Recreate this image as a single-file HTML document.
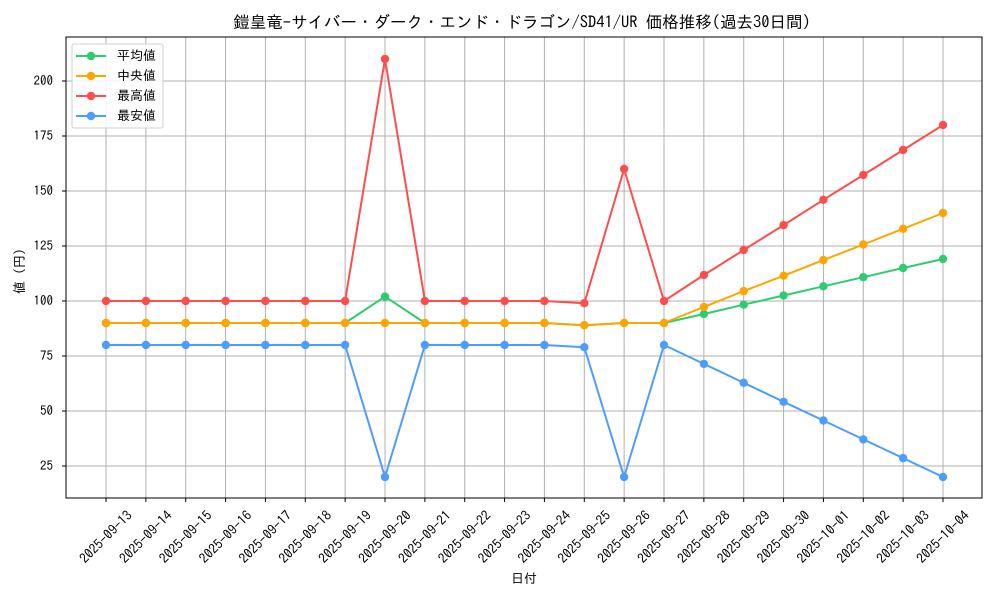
<!DOCTYPE html>
<html><head><meta charset="utf-8"><style>
body{margin:0;background:#fff}
svg{display:block;font-family:"IPAGothic","Liberation Sans","Noto Sans CJK JP",sans-serif}
</style></head><body>
<svg width="1000" height="600" viewBox="0 0 1000 600" xmlns="http://www.w3.org/2000/svg">
<defs>
<marker id="mg" markerWidth="10" markerHeight="10" refX="5" refY="5" markerUnits="userSpaceOnUse"><circle cx="5" cy="5" r="4.2" fill="#2ecc71"/></marker>
<marker id="mo" markerWidth="10" markerHeight="10" refX="5" refY="5" markerUnits="userSpaceOnUse"><circle cx="5" cy="5" r="4.2" fill="#ffa500"/></marker>
<marker id="mr" markerWidth="10" markerHeight="10" refX="5" refY="5" markerUnits="userSpaceOnUse"><circle cx="5" cy="5" r="4.2" fill="#ff4d4d"/></marker>
<marker id="mb" markerWidth="10" markerHeight="10" refX="5" refY="5" markerUnits="userSpaceOnUse"><circle cx="5" cy="5" r="4.2" fill="#4d9dff"/></marker>
</defs>
<text x="522" y="28" font-size="16.5" text-anchor="middle">鎧皇竜-サイバー・ダーク・エンド・ドラゴン/SD41/UR 価格推移(過去30日間)</text>
<g id="grid" stroke="#b0b0b0" stroke-width="1"></g>
<g id="ticks" stroke="#000" stroke-width="1"></g>
<rect x="66" y="37" width="916" height="461" fill="none" stroke="#000" stroke-width="1"/>
<g font-size="13" text-anchor="end">
<text x="53" y="470">25</text><text x="53" y="415">50</text><text x="53" y="360">75</text><text x="53" y="305">100</text><text x="53" y="250">125</text><text x="53" y="195">150</text><text x="53" y="140">175</text><text x="53" y="85">200</text>
</g>
<g font-size="13.5" text-anchor="middle">
<text transform="translate(106,537) rotate(-45)" y="4.5">2025-09-13</text>
<text transform="translate(145.9,537) rotate(-45)" y="4.5">2025-09-14</text>
<text transform="translate(185.7,537) rotate(-45)" y="4.5">2025-09-15</text>
<text transform="translate(225.6,537) rotate(-45)" y="4.5">2025-09-16</text>
<text transform="translate(265.4,537) rotate(-45)" y="4.5">2025-09-17</text>
<text transform="translate(305.3,537) rotate(-45)" y="4.5">2025-09-18</text>
<text transform="translate(345.1,537) rotate(-45)" y="4.5">2025-09-19</text>
<text transform="translate(385,537) rotate(-45)" y="4.5">2025-09-20</text>
<text transform="translate(424.9,537) rotate(-45)" y="4.5">2025-09-21</text>
<text transform="translate(464.7,537) rotate(-45)" y="4.5">2025-09-22</text>
<text transform="translate(504.6,537) rotate(-45)" y="4.5">2025-09-23</text>
<text transform="translate(544.4,537) rotate(-45)" y="4.5">2025-09-24</text>
<text transform="translate(584.3,537) rotate(-45)" y="4.5">2025-09-25</text>
<text transform="translate(624.1,537) rotate(-45)" y="4.5">2025-09-26</text>
<text transform="translate(664,537) rotate(-45)" y="4.5">2025-09-27</text>
<text transform="translate(703.9,537) rotate(-45)" y="4.5">2025-09-28</text>
<text transform="translate(743.7,537) rotate(-45)" y="4.5">2025-09-29</text>
<text transform="translate(783.6,537) rotate(-45)" y="4.5">2025-09-30</text>
<text transform="translate(823.4,537) rotate(-45)" y="4.5">2025-10-01</text>
<text transform="translate(863.3,537) rotate(-45)" y="4.5">2025-10-02</text>
<text transform="translate(903.1,537) rotate(-45)" y="4.5">2025-10-03</text>
<text transform="translate(943,537) rotate(-45)" y="4.5">2025-10-04</text>
</g>
<text x="524" y="583" font-size="13" text-anchor="middle">日付</text>
<text transform="translate(24,268) rotate(-90)" font-size="13" text-anchor="middle">値（円）</text>
<g fill="none" stroke-width="2" stroke-linejoin="round">
<polyline stroke="#2ecc71" marker-start="url(#mg)" marker-mid="url(#mg)" marker-end="url(#mg)" points="106,323 145.9,323 185.7,323 225.6,323 265.4,323 305.3,323 345.1,323 385,296.6 424.9,323 464.7,323 504.6,323 544.4,323 584.3,325.2 624.1,323 664,323 703.9,314 743.7,304.7 783.6,295.5 823.4,286.3 863.3,277.2 903.1,268 943,259"/>
<polyline stroke="#ffa500" marker-start="url(#mo)" marker-mid="url(#mo)" marker-end="url(#mo)" points="106,323 145.9,323 185.7,323 225.6,323 265.4,323 305.3,323 345.1,323 385,323 424.9,323 464.7,323 504.6,323 544.4,323 584.3,325.2 624.1,323 664,323 703.9,306.9 743.7,291.1 783.6,275.7 823.4,260.1 863.3,244.5 903.1,228.8 943,213"/>
<polyline stroke="#ff4d4d" marker-start="url(#mr)" marker-mid="url(#mr)" marker-end="url(#mr)" points="106,301 145.9,301 185.7,301 225.6,301 265.4,301 305.3,301 345.1,301 385,59 424.9,301 464.7,301 504.6,301 544.4,301 584.3,303.2 624.1,169 664,301 703.9,275 743.7,250 783.6,225.1 823.4,199.8 863.3,175 903.1,150 943,125"/>
<polyline stroke="#4d9dff" marker-start="url(#mb)" marker-mid="url(#mb)" marker-end="url(#mb)" points="106,345 145.9,345 185.7,345 225.6,345 265.4,345 305.3,345 345.1,345 385,477 424.9,345 464.7,345 504.6,345 544.4,345 584.3,347.2 624.1,477 664,345 703.9,363.9 743.7,382.8 783.6,401.8 823.4,420.5 863.3,439.4 903.1,458.1 943,477"/>
</g>
<rect x="72" y="44" width="91" height="84" rx="2" fill="#fff" fill-opacity="0.85" stroke="#d0d0d0"/>
<g stroke-width="2">
<line x1="76" y1="56" x2="106" y2="56" stroke="#2ecc71"/><circle cx="91" cy="56" r="4.2" fill="#2ecc71"/>
<line x1="76" y1="76" x2="106" y2="76" stroke="#ffa500"/><circle cx="91" cy="76" r="4.2" fill="#ffa500"/>
<line x1="76" y1="96" x2="106" y2="96" stroke="#ff4d4d"/><circle cx="91" cy="96" r="4.2" fill="#ff4d4d"/>
<line x1="76" y1="116" x2="106" y2="116" stroke="#4d9dff"/><circle cx="91" cy="116" r="4.2" fill="#4d9dff"/>
</g>
<g font-size="13"><text x="117" y="60">平均値</text><text x="117" y="80">中央値</text><text x="117" y="100">最高値</text><text x="117" y="120">最安値</text></g>
</svg>
<script>
var g=document.getElementById('grid'),t=document.getElementById('ticks'),ns='http://www.w3.org/2000/svg';
function L(p,a,b,c,d){var l=document.createElementNS(ns,'line');l.setAttribute('x1',a);l.setAttribute('y1',b);l.setAttribute('x2',c);l.setAttribute('y2',d);p.appendChild(l);}
for(var i=0;i<22;i++){var x=106+i*39.857;L(g,x,37,x,498);L(t,x,498,x,502);}
for(var v=25;v<=200;v+=25){var y=301-(v-100)*2.2;L(g,66,y,982,y);L(t,62,y,66,y);}
</script>
</body></html>
